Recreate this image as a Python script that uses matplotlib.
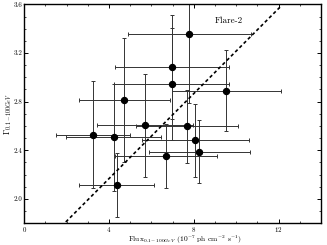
import numpy as np
import matplotlib
matplotlib.use('Agg')
import matplotlib.pyplot as plt

plt.rcParams['font.family'] = 'serif'
plt.rcParams['font.serif'] = ['cmr10', 'DejaVu Serif']
plt.rcParams['mathtext.fontset'] = 'cm'
plt.rcParams['axes.formatter.use_mathtext'] = True

# flux (1e-7 ph cm^-2 s^-1) and photon index
flux = [7.79, 6.96, 6.96, 9.53, 4.72, 5.70, 7.67, 8.06, 8.26, 6.69, 3.25, 4.22, 4.36]
flux_err = [2.90, 2.68, 2.72, 2.56, 2.15, 2.28, 2.42, 2.52, 2.38, 2.40, 1.76, 2.25, 1.77]
gamma = [3.358, 3.086, 2.944, 2.890, 2.814, 2.604, 2.596, 2.483, 2.389, 2.353, 2.528, 2.506, 2.112]
gamma_err = [0.57, 0.43, 0.46, 0.335, 0.51, 0.42, 0.30, 0.30, 0.26, 0.265, 0.44, 0.44, 0.265]

# dashed trend line
slope = 0.175
intercept = 1.467
fit_x = [1.96, 12.1]

fig = plt.figure(figsize=(3.27, 2.45), dpi=100)
ax = fig.add_axes([0.074, 0.089, 0.908, 0.893])

ax.errorbar(flux, gamma, xerr=flux_err, yerr=gamma_err, fmt='o', color='k',
            ecolor='0.2', elinewidth=0.7, capsize=1.5, capthick=0.7, ms=4.3)

fx = np.array(fit_x)
ax.plot(fx, slope * fx + intercept, 'k--', lw=1.2, dashes=(2.0, 1.6))

ax.text(9.0, 3.467, 'Flare-2', fontsize=6.5, va='center')

ax.set_xlim(0, 14)
ax.set_ylim(1.8, 3.6)
ax.set_xticks([0, 4, 8, 12])
ax.set_xticks(np.arange(0, 15, 1), minor=True)
ax.set_yticks([2.0, 2.4, 2.8, 3.2, 3.6])
ax.set_yticks(np.arange(1.8, 3.61, 0.1), minor=True)
ax.set_yticklabels(['2.0', '2.4', '2.8', '3.2', '3.6'])
ax.tick_params(which='both', direction='in', top=True, right=True, labelsize=5, pad=1.5)
ax.tick_params(which='major', length=3, width=0.7)
ax.tick_params(which='minor', length=1.6, width=0.5)
for s in ax.spines.values():
    s.set_linewidth(1.0)

ax.set_xlabel(r'Flux$_{0.1-100GeV}$ $(10^{-7}$ ph cm$^{-2}$ s$^{-1})$', fontsize=5.4, va='center')
ax.xaxis.set_label_coords(0.54, -0.078)
ax.set_ylabel(r'$\Gamma_{0.1-100GeV}$', fontsize=6.0, va='center')
ax.yaxis.set_label_coords(-0.055, 0.5)

fig.savefig('out.png', dpi=100)
